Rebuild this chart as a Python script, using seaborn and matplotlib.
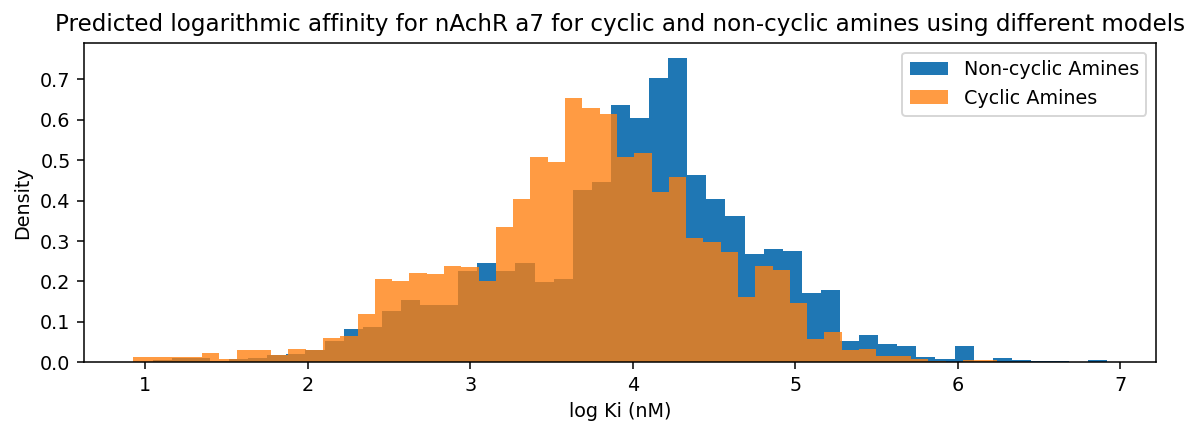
import numpy as np
import pandas as pd
import matplotlib
matplotlib.use("Agg")
import matplotlib.pyplot as plt
import seaborn as sns

# ---- data (densities per bin) ----
noncyclic_range = (1.045, 6.92)   # 50 equal bins
cyclic_range = (0.922, 6.244)     # 50 equal bins

noncyclic_density = [
    0.006, 0.010, 0.010, 0.004, 0.008, 0.010, 0.018, 0.020, 0.030, 0.0535,
    0.0815, 0.088, 0.126, 0.154, 0.143, 0.141, 0.2265, 0.246, 0.2265, 0.246,
    0.198, 0.205, 0.427, 0.445, 0.636, 0.605, 0.704, 0.753, 0.4646, 0.403,
    0.363, 0.269, 0.280, 0.276, 0.1705, 0.180, 0.0535, 0.0675, 0.046, 0.040,
    0.0124, 0.009, 0.041, 0.004, 0.010, 0.0066, 0.0033, 0.0033, 0.0, 0.0066,
]
cyclic_density = [
    0.0124, 0.0124, 0.0124, 0.0124, 0.024, 0.008, 0.030, 0.030, 0.018, 0.034,
    0.030, 0.061, 0.065, 0.119, 0.205, 0.202, 0.222, 0.219, 0.239, 0.235,
    0.2018, 0.335, 0.403, 0.507, 0.496, 0.653, 0.629, 0.615, 0.507, 0.519,
    0.421, 0.458, 0.308, 0.298, 0.2735, 0.1606, 0.239, 0.229, 0.1466, 0.0577,
    0.074, 0.030, 0.034, 0.0165, 0.0165, 0.0074, 0.003, 0.0, 0.0066, 0.0066,
]
labels = ["Non-cyclic Amines", "Cyclic Amines"]
title = "Predicted logarithmic affinity for nAchR a7 for cyclic and non-cyclic amines using different models"
xlabel = "log Ki (nM)"
ylabel = "Density"

# ---- figure ----
dpi = 138
W, H = 1189, 422
fig = plt.figure(figsize=(W / dpi, H / dpi), dpi=dpi)
ax = fig.add_axes([84 / W, 1 - 362.3 / H, (1156 - 84) / W, (362.3 - 43) / H])

def draw(rng, dens, color, alpha, label):
    edges = np.linspace(rng[0], rng[1], len(dens) + 1)
    centers = (edges[:-1] + edges[1:]) / 2
    df = pd.DataFrame({"x": centers, "w": dens})
    sns.histplot(data=df, x="x", weights="w", bins=list(edges), stat="count",
                 color=color, alpha=alpha, linewidth=0, edgecolor="none",
                 label=label, ax=ax)

draw(noncyclic_range, noncyclic_density, "#1f77b4", 1.0, labels[0])
draw(cyclic_range, cyclic_density, "#ff7f0e", 0.78, labels[1])

ax.set_xlim(0.622, 7.22)
ax.set_ylim(0, 0.79)
ax.set_yticks(np.arange(0, 0.71, 0.1))
ax.set_title(title, fontsize=12)
ax.set_xlabel(xlabel)
ax.set_ylabel(ylabel)
ax.legend(loc="upper right")

fig.savefig("out.png", dpi=dpi)
